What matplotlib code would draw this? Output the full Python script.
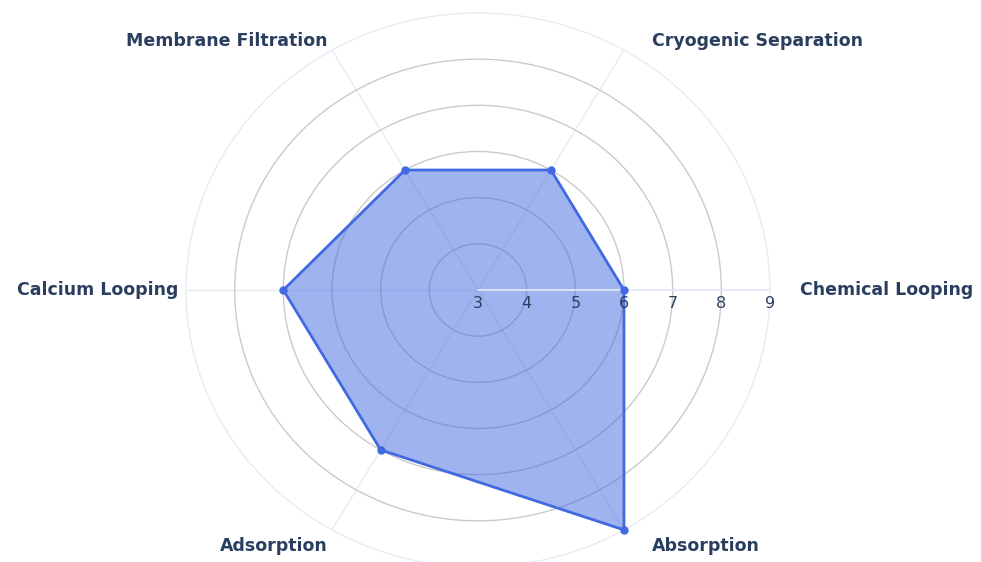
import matplotlib.pyplot as plt
import numpy as np

categories = ["Chemical Looping", "Cryogenic Separation", "Membrane Filtration",
              "Calcium Looping", "Adsorption", "Absorption"]
values = [6, 6, 6, 7, 7, 9]
radial_ticks = [3, 4, 5, 6, 7, 8, 9]

LINE = "#4169E1"
TEXT = "#2a3f5f"
LIGHT = "#E5ECF6"
GRID = "#CACACA"


def main() -> None:
    plt.rcParams["font.family"] = "DejaVu Sans"
    fig = plt.figure(figsize=(9.81, 5.62), dpi=100)
    ax = fig.add_axes([0.1896, -0.0089, 0.5953, 0.9858], projection="polar")
    ax.set_aspect("auto")

    angles = np.deg2rad(np.arange(len(categories)) * 60.0)
    theta = np.append(angles, angles[0])
    r = np.append(values, values[0])

    ax.set_ylim(3, 9)
    ax.set_yticks(radial_ticks[1:-1])
    ax.set_yticklabels([])
    ax.set_xticks(angles)
    ax.set_xticklabels([])
    ax.tick_params(length=0)
    ax.yaxis.grid(True, color=GRID, linewidth=1.0)
    ax.xaxis.grid(True, color=LIGHT, linewidth=1.0)
    ax.spines["polar"].set_color(LIGHT)
    ax.spines["polar"].set_linewidth(1.0)
    ax.set_axisbelow(True)

    ax.fill(theta, r, color=LINE, alpha=0.5, linewidth=0, zorder=2)
    ax.plot(theta, r, color=LINE, linewidth=2, zorder=3, clip_on=False)
    ax.plot(angles, values, "o", color=LINE, markersize=5, zorder=4, clip_on=False)

    # radial axis line along 0 degrees
    ax.plot([0, 0], [3, 9], color=LIGHT, linewidth=1.2, zorder=3.5)

    for v in radial_ticks:
        ax.annotate(str(v), xy=(0, v), xytext=(0, -6), textcoords="offset pixels",
                    ha="center", va="top", fontsize=11.5, color=TEXT, zorder=5)

    offsets = [(30, 0), (28, 9), (-4, 9), (-8, 0), (-4, -16), (28, -16)]
    aligns = ["left", "left", "right", "right", "right", "left"]
    for ang, name, off, ha in zip(angles, categories, offsets, aligns):
        ax.annotate(name, xy=(ang, 9), xytext=off, textcoords="offset pixels",
                    ha=ha, va="center", fontsize=12.5, fontweight="bold",
                    color=TEXT, annotation_clip=False)

    fig.savefig("out.png", dpi=100, facecolor="white")


if __name__ == "__main__":
    main()
